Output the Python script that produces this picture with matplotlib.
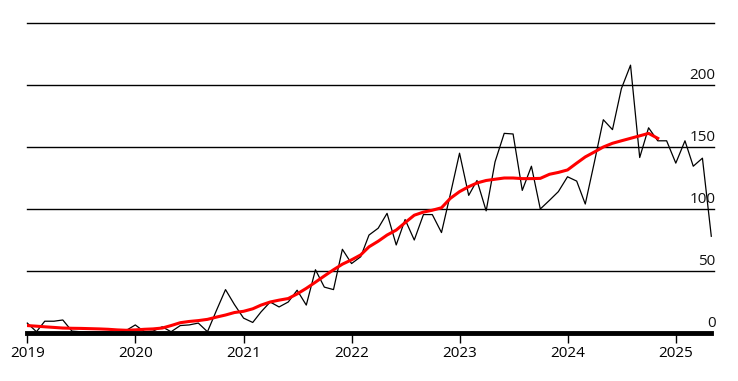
import matplotlib
matplotlib.use("Agg")
import matplotlib.pyplot as plt
import matplotlib.dates as mdates
import matplotlib.transforms as mtransforms
import pandas as pd

# monthly counts, Jan 2019 .. May 2025
months = pd.date_range("2019-01-01", "2025-05-01", freq="MS")
counts = [
    8, 1, 9.5, 9.5, 10.5, 1.5, 1, 1, 1, 1, 0, 2,                      # 2019
    6.5, 1, 1.5, 5, 1, 6, 6.5, 8, 1, 18, 35, 23,                      # 2020
    12, 8.5, 17, 25, 21, 25, 34.5, 22.5, 51, 37, 35, 67.5,            # 2021
    56, 61.5, 79, 84.5, 96.5, 71, 91.5, 75, 95.5, 95.5, 81, 112,      # 2022
    145, 111, 123, 98.5, 138, 161, 160.5, 115, 134.5, 100, 107, 114,  # 2023
    126, 122.5, 104, 138, 172, 164, 197, 216, 141.5, 165.5, 155, 155, # 2024
    137, 155, 134.5, 141, 78,                                         # 2025
]
# smoothed trend (red), Jan 2019 .. Nov 2024
trend = [
    6, 5.5, 5, 4.5, 4, 3.8, 3.7, 3.5, 3.3, 3, 2.5, 2.2,
    2.5, 3, 3.3, 4, 6, 8.3, 9.3, 10, 11, 12.8, 14.5, 16.5,
    17.5, 19.5, 22.5, 25, 26.5, 27.8, 31.5, 36, 41, 46, 51, 55.5,
    59, 63, 69.5, 74, 79, 83, 89, 95, 97.5, 99, 101, 108.6,
    114, 118, 121, 123, 124, 125, 125, 124.5, 124.5, 124.7, 128, 129.5,
    131.5, 137, 142, 146, 150, 153, 155, 157, 159, 161, 157,
]
grid_vals = [50, 100, 150, 200, 250]
label_vals = [0, 50, 100, 150, 200]
years = [2019, 2020, 2021, 2022, 2023, 2024, 2025]

fig = plt.figure(figsize=(7.38, 3.81), dpi=100)
ax = fig.add_axes([27.3 / 738, 48 / 381, 684 / 738, 310 / 381])

for v in grid_vals:
    ax.axhline(v, xmax=1.004, color="black", lw=1, zorder=1, clip_on=False)
ax.axhline(0, color="black", lw=3.5, zorder=3, clip_on=False)

ax.plot(months, counts, color="black", lw=0.9, zorder=2, clip_on=False)
ax.plot(months[:len(trend)], trend, color="red", lw=2.2, zorder=2)

ax.set_xlim(months[0], months[-1])
ax.set_ylim(0, 250)

for s in ax.spines.values():
    s.set_visible(False)
ax.set_yticks([])
ax.set_xticks([pd.Timestamp(f"{y}-01-01") for y in years])
ax.xaxis.set_major_formatter(mdates.DateFormatter("%Y"))
ax.tick_params(axis="x", length=7, width=1, pad=2.5, labelsize=11)
for lab in ax.get_xticklabels():
    lab.set_family("Open Sans")

trans = mtransforms.blended_transform_factory(ax.transAxes, ax.transData)
for v in label_vals:
    ax.text(1.006, v + 1.5, str(v), transform=trans, ha="right", va="bottom",
            fontsize=11, family="Open Sans", color="#111111", zorder=4)

fig.savefig("out.png", dpi=100)
